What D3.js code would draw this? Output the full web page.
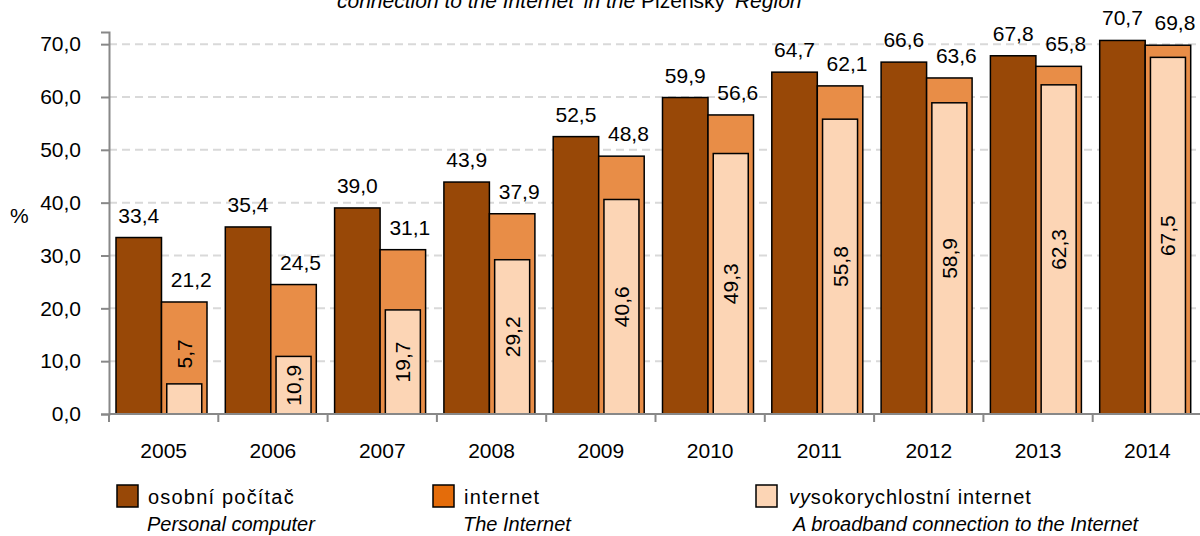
<!DOCTYPE html>
<html>
<head>
<meta charset="utf-8">
<script src="https://cdn.jsdelivr.net/npm/d3@7"></script>
<style>
  body { margin: 0; background: #fff; }
  svg text { font-family: "Liberation Sans", Arial, sans-serif; fill: #000; }
</style>
</head>
<body>
<div id="chart"></div>
<script>
// data
const years = ['2005', '2006', '2007', '2008', '2009', '2010', '2011', '2012', '2013', '2014']
const pc = [33.4, 35.4, 39.0, 43.9, 52.5, 59.9, 64.7, 66.6, 67.8, 70.7]
const internet = [21.2, 24.5, 31.1, 37.9, 48.8, 56.6, 62.1, 63.6, 65.8, 69.8]
const broadband = [5.7, 10.9, 19.7, 29.2, 40.6, 49.3, 55.8, 58.9, 62.3, 67.5]
const yTicks = [0, 10, 20, 30, 40, 50, 60, 70]
const legendCz = ['osobní počítač', 'internet', 'vysokorychlostní internet']
const legendEn = ['Personal computer', 'The Internet', 'A broadband connection to the Internet']

const colors = {
  pc: '#984807',
  net: '#E88D47',
  netLegend: '#E46C0A',
  bb: '#FCD5B5'
}

const width = 1200
const height = 536

const fmt = d3.formatLocale({ decimal: ',', thousands: ' ', grouping: [3], currency: ['', ''] }).format('.1f')

const svg = d3.select('#chart')
  .append('svg')
  .attr('width', width)
  .attr('height', height)

const x = d3.scaleBand()
  .domain(years)
  .range([109, 1202])

// two side-by-side bars in each year slot
const xInner = d3.scaleBand()
  .domain(['pc', 'net'])
  .range([7, 98])

const y = d3.scaleLinear()
  .domain([0, 72.3])
  .range([414, 32])

// gridlines
svg.append('g')
  .selectAll('line')
  .data(yTicks.filter(d => d > 0))
  .enter()
  .append('line')
  .attr('x1', 109)
  .attr('x2', 1202)
  .attr('y1', d => y(d))
  .attr('y2', d => y(d))
  .attr('stroke', '#d9d9d9')
  .attr('stroke-width', 2)
  .attr('stroke-dasharray', '8,5')

const rows = years.map((yr, i) => ({ year: yr, pc: pc[i], net: internet[i], bb: broadband[i] }))

const groups = svg.append('g')
  .selectAll('g')
  .data(rows)
  .enter()
  .append('g')
  .attr('transform', d => 'translate(' + x(d.year) + ',0)')

const bw = xInner.bandwidth()

groups.append('rect')
  .attr('x', xInner('pc'))
  .attr('y', d => y(d.pc))
  .attr('width', bw)
  .attr('height', d => y(0) - y(d.pc))
  .attr('fill', colors.pc)
  .attr('stroke', '#000')
  .attr('stroke-width', 1.5)

groups.append('rect')
  .attr('x', xInner('net'))
  .attr('y', d => y(d.net))
  .attr('width', bw)
  .attr('height', d => y(0) - y(d.net))
  .attr('fill', colors.net)
  .attr('stroke', '#000')
  .attr('stroke-width', 1.5)

// broadband bar sits inside the internet bar
const bbw = 35
groups.append('rect')
  .attr('x', xInner('net') + (bw - bbw) / 2)
  .attr('y', d => y(d.bb))
  .attr('width', bbw)
  .attr('height', d => y(0) - y(d.bb))
  .attr('fill', colors.bb)
  .attr('stroke', '#000')
  .attr('stroke-width', 1.5)

// value labels
groups.append('text')
  .attr('x', xInner('pc') + bw / 2)
  .attr('y', d => y(d.pc) - 15)
  .attr('text-anchor', 'middle')
  .style('font-size', '21px')
  .text(d => fmt(d.pc))

groups.append('text')
  .attr('x', xInner('net') + bw / 2 + 7)
  .attr('y', d => y(d.net) - 15)
  .attr('text-anchor', 'middle')
  .style('font-size', '21px')
  .text(d => fmt(d.net))

const labelLen = 42
groups.append('text')
  .attr('transform', d => {
    const top = y(d.bb)
    const h = y(0) - top
    const cy = h < labelLen + 6 ? top - 9 - labelLen / 2 : top + h / 2
    return 'translate(' + (xInner('net') + bw / 2) + ',' + cy + ') rotate(-90)'
  })
  .attr('text-anchor', 'middle')
  .attr('dominant-baseline', 'central')
  .style('font-size', '21px')
  .text(d => fmt(d.bb))

// y axis
const yAxis = svg.append('g')
  .attr('transform', 'translate(109,0)')
  .call(d3.axisLeft(y).tickValues(yTicks).tickFormat(fmt).tickSize(8).tickPadding(20))
yAxis.select('.domain').attr('stroke', '#888').attr('stroke-width', 2)
yAxis.selectAll('.tick line').attr('stroke', '#888').attr('stroke-width', 2)
yAxis.selectAll('.tick text').style('font-size', '21px').style('font-family', '"Liberation Sans", Arial, sans-serif').attr('fill', '#000')

// x axis: ticks between categories
const xAxis = svg.append('g')
const xEdges = years.map(d => x(d)).concat([x.range()[1]])
xAxis.append('line')
  .attr('x1', 109)
  .attr('x2', 1202)
  .attr('y1', y(0))
  .attr('y2', y(0))
  .attr('stroke', '#888')
  .attr('stroke-width', 2)
xAxis.selectAll('.xt')
  .data(xEdges)
  .enter()
  .append('line')
  .attr('x1', d => d)
  .attr('x2', d => d)
  .attr('y1', y(0))
  .attr('y2', y(0) + 8)
  .attr('stroke', '#888')
  .attr('stroke-width', 2)
xAxis.selectAll('text')
  .data(years)
  .enter()
  .append('text')
  .attr('x', d => x(d) + x.bandwidth() / 2)
  .attr('y', 458)
  .attr('text-anchor', 'middle')
  .style('font-size', '21px')
  .text(d => d)

// % label
svg.append('text')
  .attr('x', 10)
  .attr('y', 223)
  .style('font-size', '21px')
  .text('%')

// title (second line, top is cut off as in the source)
const title = svg.append('text')
  .attr('x', 337)
  .attr('y', 8)
  .style('font-size', '21px')
title.append('tspan').style('font-style', 'italic').text("connection to the Internet' in the ")
title.append('tspan').text('Plzeňský ')
title.append('tspan').style('font-style', 'italic').text("'Region'")

// legend
const legendX = [117, 433, 756]
const legendFill = [colors.pc, colors.netLegend, colors.bb]
const lg = svg.append('g')
  .selectAll('g')
  .data(legendCz)
  .enter()
  .append('g')
  .attr('transform', (d, i) => 'translate(' + legendX[i] + ',0)')

lg.append('rect')
  .attr('x', 0)
  .attr('y', 485)
  .attr('width', 21)
  .attr('height', 22)
  .attr('fill', (d, i) => legendFill[i])
  .attr('stroke', '#000')
  .attr('stroke-width', 1.5)

lg.append('text')
  .attr('x', (d, i) => i === 2 ? 33 : 31)
  .attr('y', 504)
  .style('font-size', '20px')
  .style('letter-spacing', (d, i) => i === 2 ? '0.9px' : '1.2px')
  .each(function (d, i) {
    const t = d3.select(this)
    if (i === 2) {
      t.append('tspan').style('font-style', 'italic').text(d.slice(0, 2))
      t.append('tspan').text(d.slice(2))
    } else {
      t.text(d)
    }
  })

lg.append('text')
  .attr('x', (d, i) => i === 2 ? 37 : 30)
  .attr('y', 531)
  .style('font-size', '20px')
  .style('font-style', 'italic')
  .text((d, i) => legendEn[i])
</script>
</body>
</html>
